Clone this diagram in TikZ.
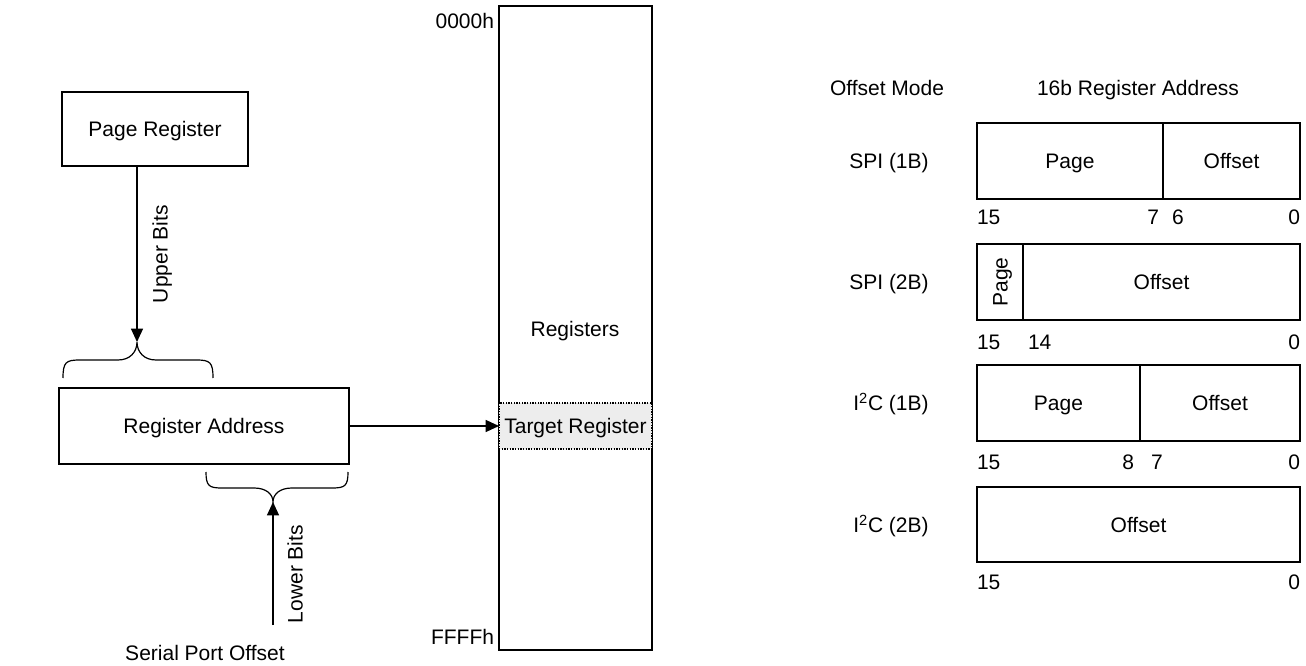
\documentclass[tikz,border=0pt]{standalone}
\usepackage{fontspec}
\setmainfont{Liberation Sans}
\usetikzlibrary{arrows.meta,fit}
\begin{document}
\begin{tikzpicture}[x=0.75pt,y=-0.75pt,
  font=\fontsize{15.75}{18}\selectfont,
  box/.style={draw, line width=0.9pt, inner sep=0pt, outer sep=0pt},
  lbl/.style={inner sep=0pt, outer sep=0pt, text height=11.3pt, text depth=0pt},
  arr/.style={line width=0.9pt, -{Triangle[length=10pt,width=9pt]}},
  brc/.style={line width=0.9pt}]
\useasboundingbox (0,0) rectangle (1306,666);

% left part
\node[box, fit={(62,92)(248,166)}] (pagereg) {};
\node[lbl] (pagereg-t) at (pagereg.center) {Page Register};
\coordinate (ubtip) at (137,342);
\draw[arr] (pagereg.south -| ubtip) -- (ubtip);
\node[lbl, rotate=90] (upbits) at (160,254) {Upper Bits};
\draw[brc] (63,378) .. controls (63,362) and (66,360) .. (80,360) -- (118,360)
  .. controls (130,360) and (137,352) .. (ubtip)
  .. controls (137,352) and (144,360) .. (156,360) -- (196,360)
  .. controls (210,360) and (213,362) .. (213,378);

\node[box, fit={(59,388)(349,464)}] (regaddr) {};
\node[lbl] (regaddr-t) at (regaddr.center) {Register Address};

\coordinate (lbtip) at (273,502);
\draw[brc] (206,472) .. controls (206,486) and (209,488) .. (222,488) -- (254,488)
  .. controls (266,488) and (273,494) .. (lbtip)
  .. controls (273,494) and (280,488) .. (292,488) -- (332,488)
  .. controls (345,488) and (348,486) .. (348,472);
\coordinate (lbstart) at (273,625);
\draw[arr] (lbstart) -- (lbtip);
\node[lbl, rotate=90] (lowbits) at (295,574) {Lower Bits};
\node[lbl] (serial) at (205,653) {Serial Port Offset};

% memory
\node[box, fit={(499,6)(652,650)}] (mem) {};
\node[fit={(499,403)(652,449)}, inner sep=0pt, outer sep=0pt, fill=black!7, draw,
  line width=0.9pt, dash pattern=on 1pt off 1pt] (target) {};
\node[lbl] (target-t) at (target.center) {Target Register};
\node[lbl] (regs) at (575,329) {Registers};
\node[lbl, anchor=east] (addrtop) at (494,21) {0000h};
\node[lbl, anchor=east] (addrbot) at (494,637) {FFFFh};
\draw[arr] (regaddr.east) -- (target.west);

% right part
\node[lbl] (hmode) at (887,88) {Offset Mode};
\node[lbl] (haddr) at (1138,88) {16b Register Address};

\node[lbl] (m1) at (889,161) {SPI (1B)};
\node[lbl] (m2) at (889,282) {SPI (2B)};
\node[lbl] (m3) at (891,403) {I\textsuperscript{2}C (1B)};
\node[lbl] (m4) at (891,525) {I\textsuperscript{2}C (2B)};

\node[box, fit={(977,123)(1163,199)}] (s1p) {};
\node[lbl] (s1p-t) at (s1p.center) {Page};
\node[box, fit={(1163,123)(1300,199)}] (s1o) {};
\node[lbl] (s1o-t) at (s1o.center) {Offset};
\node[lbl, anchor=west] (n1a) at (977,217) {15};
\node[lbl, anchor=east] (n1b) at (1159,217) {7};
\node[lbl, anchor=west] (n1c) at (1172,217) {6};
\node[lbl, anchor=east] (n1d) at (1300,217) {0};

\node[box, fit={(977,244)(1023,320)}] (s2p) {};
\node[lbl, rotate=90] (s2p-t) at (s2p.center) {Page};
\node[box, fit={(1023,244)(1300,320)}] (s2o) {};
\node[lbl] (s2o-t) at (s2o.center) {Offset};
\node[lbl, anchor=west] (n2a) at (977,342) {15};
\node[lbl, anchor=west] (n2b) at (1028,342) {14};
\node[lbl, anchor=east] (n2c) at (1300,342) {0};

\node[box, fit={(977,365)(1140,441)}] (i1p) {};
\node[lbl] (i1p-t) at (i1p.center) {Page};
\node[box, fit={(1140,365)(1300,441)}] (i1o) {};
\node[lbl] (i1o-t) at (i1o.center) {Offset};
\node[lbl, anchor=west] (n3a) at (977,462) {15};
\node[lbl, anchor=east] (n3b) at (1134,462) {8};
\node[lbl, anchor=west] (n3c) at (1151,462) {7};
\node[lbl, anchor=east] (n3d) at (1300,462) {0};

\node[box, fit={(977,487)(1300,562)}] (i2o) {};
\node[lbl] (i2o-t) at (i2o.center) {Offset};
\node[lbl, anchor=west] (n4a) at (977,582) {15};
\node[lbl, anchor=east] (n4b) at (1300,582) {0};
\end{tikzpicture}
\end{document}
